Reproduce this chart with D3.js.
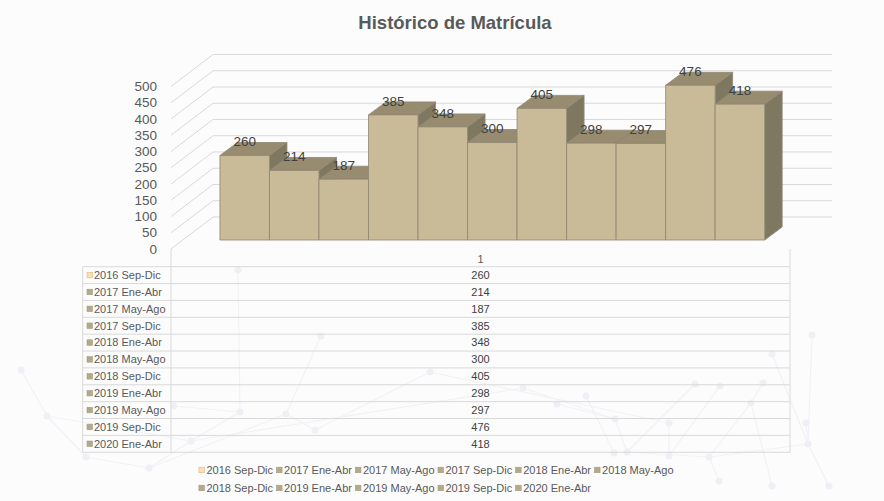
<!DOCTYPE html>
<html>
<head>
<meta charset="utf-8">
<script src="https://d3js.org/d3.v7.min.js"></script>
<title>Histórico de Matrícula</title>
<style>
  body { margin: 0; background: #fff; }
  svg text { font-family: "Liberation Sans", Arial, sans-serif; }
</style>
</head>
<body>
<div id="chart"></div>
<script>
// data
let categories = ["2016 Sep-Dic", "2017 Ene-Abr", "2017 May-Ago", "2017 Sep-Dic", "2018 Ene-Abr",
  "2018 May-Ago", "2018 Sep-Dic", "2019 Ene-Abr", "2019 May-Ago", "2019 Sep-Dic", "2020 Ene-Abr"];
let values = [260, 214, 187, 385, 348, 300, 405, 298, 297, 476, 418];
let yTicks = [0, 50, 100, 150, 200, 250, 300, 350, 400, 450, 500];
let groupLabel = "1";

let W = 884, H = 501;
let svg = d3.select("#chart").append("svg").attr("width", W).attr("height", H);

// light backdrop + faint network decoration
svg.append("rect").attr("width", W).attr("height", H).attr("fill", "#fcfcfc");
let nodes = [[238,270],[321,336],[174,406],[240,412],[286,414],[315,430],[191,441],[21,370],[47,416],[86,457],
  [149,468],[523,388],[557,404],[586,396],[615,419],[614,453],[627,452],[669,423],[669,456],[695,384],[720,386],
  [709,457],[751,403],[763,383],[772,354],[806,423],[808,444],[812,335],[719,481],[772,486],[829,486],[430,372]];
let edges = [[0,3],[1,4],[2,3],[3,6],[4,5],[6,10],[7,8],[8,9],[8,6],[9,10],[10,4],[11,14],[12,14],[13,15],
  [14,16],[17,18],[19,16],[20,18],[22,21],[22,29],[23,22],[24,26],[27,26],[26,21],[26,30],[25,26],[21,28],
  [5,31],[31,17],[11,6],[16,21]];
let deco = svg.append("g");
deco.selectAll("line").data(edges).join("line")
  .attr("x1", d => nodes[d[0]][0]).attr("y1", d => nodes[d[0]][1])
  .attr("x2", d => nodes[d[1]][0]).attr("y2", d => nodes[d[1]][1])
  .attr("stroke", "#f1f2f6").attr("stroke-width", 1.2);
deco.selectAll("circle").data(nodes).join("circle")
  .attr("cx", d => d[0]).attr("cy", d => d[1]).attr("r", 3.5).attr("fill", "#eef0f5");

// title
svg.append("text").attr("x", 455).attr("y", 29).attr("text-anchor", "middle")
  .attr("font-size", "18.5px").attr("font-weight", "bold").attr("fill", "#595959")
  .text("Histórico de Matrícula");

// 3d plot geometry
let plotLeft = 171, plotRight = 790, floorFront = 249;
let wallDx = 42, wallDy = -32;     // depth of floor / back wall
let barDx0 = 11.8, barDy0 = -9;    // front of the bars
let barDx = 17.5, barDy = -13;     // thickness of the bars

let y = d3.scaleLinear().domain([0, 500]).range([0, 162.5]);
let x = d3.scaleBand().domain(categories)
  .range([plotLeft + barDx0, plotRight + barDx0]).paddingInner(0).paddingOuter(0.75);

// gridlines: left wall diagonal + back wall line
let grid = svg.append("g").attr("fill", "none").attr("stroke", "#d9d9d9").attr("stroke-width", 1);
grid.selectAll("path").data(yTicks).join("path")
  .attr("d", v => {
    let y0 = floorFront - y(v);
    return "M" + plotLeft + "," + y0 + "L" + (plotLeft + wallDx) + "," + (y0 + wallDy) +
      "L" + (plotRight + wallDx) + "," + (y0 + wallDy);
  });

// y labels
svg.append("g").selectAll("text").data(yTicks).join("text")
  .attr("x", 157).attr("y", v => floorFront - y(v)).attr("dy", "0.35em")
  .attr("text-anchor", "end").attr("font-size", "13.5px").attr("fill", "#595959")
  .text(d => d);

// bars (left to right so the next front face covers the previous side)
let base = floorFront + barDy0;
let bars = svg.append("g").attr("stroke", "#8f8772").attr("stroke-width", 0.8).attr("stroke-linejoin", "round");
categories.forEach((c, i) => {
  let x0 = x(c), x1 = x(c) + x.bandwidth(), top = base - y(values[i]);
  let g = bars.append("g");
  g.append("path").attr("fill", "#7f7860")
    .attr("d", `M${x1},${top}L${x1 + barDx},${top + barDy}L${x1 + barDx},${base + barDy}L${x1},${base}Z`);
  g.append("path").attr("fill", "#978c70")
    .attr("d", `M${x0},${top}L${x0 + barDx},${top + barDy}L${x1 + barDx},${top + barDy}L${x1},${top}Z`);
  g.append("rect").attr("fill", "#c9bb97")
    .attr("x", x0).attr("y", top).attr("width", x.bandwidth()).attr("height", base - top);
});

// value labels
svg.append("g").selectAll("text").data(values).join("text")
  .attr("x", (d, i) => x(categories[i]) + x.bandwidth() / 2)
  .attr("y", d => base - y(d) - 14).attr("dy", "0.35em")
  .attr("text-anchor", "middle").attr("font-size", "13.5px").attr("fill", "#404040")
  .text(d => d);

// data table
let rowTop = 266.7, rowH = 16.87, labLeft = 82.7;
let rows = d3.range(categories.length);
let tbl = svg.append("g");
tbl.append("text").attr("x", (plotLeft + plotRight) / 2).attr("y", 259).attr("dy", "0.35em")
  .attr("text-anchor", "middle").attr("font-size", "11px").attr("fill", "#595959").text(groupLabel);
let lines = tbl.append("g").attr("stroke", "#d9d9d9").attr("stroke-width", 1);
d3.range(categories.length + 1).forEach(i => {
  lines.append("line").attr("x1", labLeft).attr("x2", plotRight)
    .attr("y1", rowTop + i * rowH).attr("y2", rowTop + i * rowH);
});
let tblBottom = rowTop + categories.length * rowH;
lines.append("line").attr("x1", labLeft).attr("x2", labLeft).attr("y1", rowTop).attr("y2", tblBottom);
lines.append("line").attr("x1", plotLeft).attr("x2", plotLeft).attr("y1", floorFront).attr("y2", tblBottom);
lines.append("line").attr("x1", plotRight).attr("x2", plotRight).attr("y1", floorFront).attr("y2", tblBottom);

let keyFill = i => i === 0 ? "#f9dfb9" : "#b5a986";
let keyStroke = i => i === 0 ? "#e3b57a" : "#a39b85";

let trow = tbl.selectAll("g.row").data(rows).join("g").attr("class", "row")
  .attr("transform", i => `translate(0,${rowTop + i * rowH + rowH / 2})`);
trow.append("rect").attr("x", 87).attr("y", -2.8).attr("width", 5.5).attr("height", 5.5)
  .attr("fill", keyFill).attr("stroke", keyStroke).attr("stroke-width", 0.6);
trow.append("text").attr("x", 94).attr("dy", "0.35em").attr("font-size", "11px").attr("fill", "#595959")
  .text(i => categories[i]);
trow.append("text").attr("x", (plotLeft + plotRight) / 2).attr("dy", "0.35em")
  .attr("text-anchor", "middle").attr("font-size", "11px").attr("fill", "#404040")
  .text(i => values[i]);

// legend, 2 rows with aligned columns
let perRow = 6, legRows = [470, 488];
let leg = svg.append("g");
let items = leg.selectAll("g").data(rows).join("g");
items.append("rect").attr("x", 0).attr("y", -2.8).attr("width", 5.5).attr("height", 5.5)
  .attr("fill", keyFill).attr("stroke", keyStroke).attr("stroke-width", 0.6);
items.append("text").attr("x", 7.5).attr("dy", "0.35em").attr("font-size", "11px").attr("fill", "#595959")
  .text(i => categories[i]);
let widths = items.nodes().map(n => n.querySelector("text").getComputedTextLength() + 7.5);
let colW = d3.range(perRow).map(c => d3.max(rows.filter(i => i % perRow === c), i => widths[i]) + 3.5);
let colX = [0];
colW.forEach((w, c) => colX.push(colX[c] + w));
let legLeft = 438 - colX[perRow] / 2;
items.attr("transform", i => `translate(${legLeft + colX[i % perRow]},${legRows[Math.floor(i / perRow)]})`);
</script>
</body>
</html>
